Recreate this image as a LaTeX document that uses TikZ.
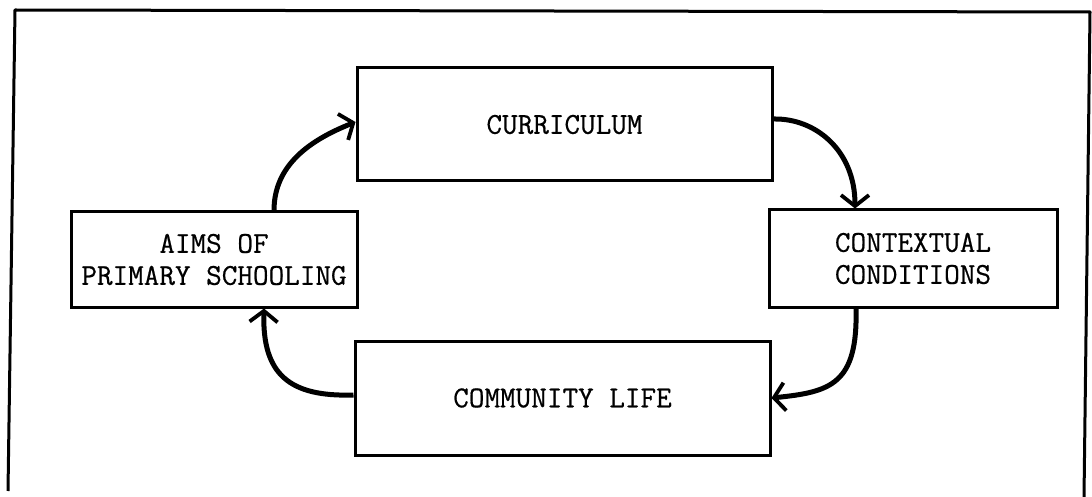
\documentclass[tikz,border=0pt]{standalone}
\usepackage{fontspec}
\newfontfamily\typewriter[FakeBold=0.6]{Latin Modern Mono}
\usetikzlibrary{arrows.meta}
\begin{document}
\begin{tikzpicture}[x=1pt,y=-1pt,
  box/.style={draw, line width=3pt, rectangle, inner sep=0pt, align=center,
    font=\typewriter\fontsize{30.3}{32}\selectfont},
  flow/.style={line width=5pt,
    -{Straight Barb[length=11pt,width=28pt,line width=3.8pt]}},
  frameline/.style={line width=3pt, line join=round},
]
\useasboundingbox (0,0) rectangle (1092,497);
\fill[white] (0,0) rectangle (1092,497);

% outer frame
\coordinate (fbl) at (8,491);
\coordinate (ftl) at (15,10);
\coordinate (ftr) at (1090,12);
\coordinate (fbr) at (1084,497);
\draw[frameline] (fbl) -- (ftl) -- (ftr) -- (fbr);

% boxes
\node[box, minimum width=286pt, minimum height=95pt] (aims) at (214,259.5)
  {AIMS OF\\PRIMARY SCHOOLING};
\node[box, minimum width=415pt, minimum height=113pt] (curric) at (564.5,124.5)
  {CURRICULUM};
\node[box, minimum width=288pt, minimum height=97pt] (context) at (913,258.5)
  {CONTEXTUAL\\CONDITIONS};
\node[box, minimum width=415pt, minimum height=114pt] (community) at (562.5,398)
  {COMMUNITY LIFE};

% cycle of arrows
\draw[flow] ([xshift=60pt]aims.north) .. controls (274,165) and (310,140) .. ([yshift=2.5pt]curric.west);
\draw[flow] ([yshift=5.5pt]curric.east) .. controls (815,118) and (855,150) .. ([xshift=-58pt]context.north);
\draw[flow] ([xshift=-57pt]context.south) .. controls (858,385) and (830,392) .. (community.east);
\draw[flow] ([yshift=3pt]community.west) .. controls (290,397) and (262,375) .. ([xshift=50pt]aims.south);
\end{tikzpicture}
\end{document}
